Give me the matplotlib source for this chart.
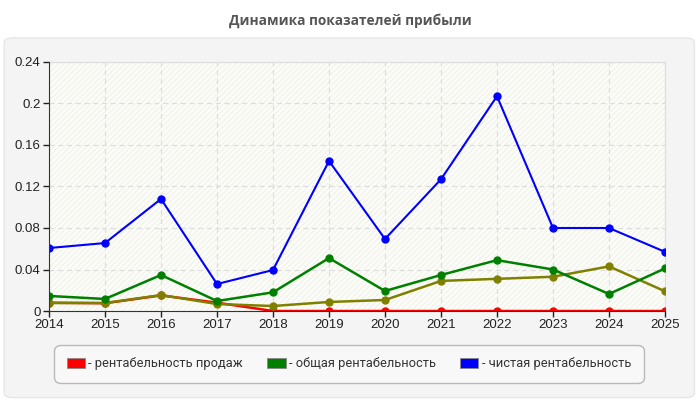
import matplotlib
matplotlib.use("Agg")
import matplotlib.pyplot as plt
from matplotlib.patches import FancyBboxPatch, Rectangle
import matplotlib.ticker as mticker

years = [2014, 2015, 2016, 2017, 2018, 2019, 2020, 2021, 2022, 2023, 2024, 2025]
sales_prof = [0.008, 0.0075, 0.015, 0.008, 0, 0, 0, 0, 0, 0, 0, 0]
total_prof = [0.0145, 0.0116, 0.0347, 0.0096, 0.018, 0.051, 0.0193, 0.0347, 0.049, 0.040, 0.0164, 0.041]
net_prof = [0.0607, 0.0655, 0.108, 0.026, 0.0395, 0.1446, 0.0694, 0.127, 0.207, 0.080, 0.080, 0.057]
other_prof = [0.0077, 0.0077, 0.0154, 0.0067, 0.0048, 0.0087, 0.0106, 0.029, 0.031, 0.033, 0.043, 0.019]
labels = ["- рентабельность продаж", "- общая рентабельность", "- чистая рентабельность"]
title = "Динамика показателей прибыли"
yticks = [0, 0.04, 0.08, 0.12, 0.16, 0.2, 0.24]

plt.rcParams['font.family'] = ['Liberation Sans', 'DejaVu Sans']

fig = plt.figure(figsize=(7, 4), dpi=100)
fig.patch.set_facecolor('white')

panel = FancyBboxPatch((0.006, 0.006), 0.986, 0.899,
                       boxstyle="round,pad=0,rounding_size=0.012",
                       transform=fig.transFigure, facecolor='#f4f4f4',
                       edgecolor='#e6e6e6', linewidth=1, zorder=-5)
fig.patches.append(panel)

fig.text(0.5, 0.948, title, ha='center', va='center', fontsize=9.8,
         fontweight='bold', color='#555555', family=['Open Sans', 'DejaVu Sans'])

ax = fig.add_axes([0.07, 0.2225, 0.88, 0.6225])
ax.set_zorder(1)
ax.set_facecolor('#fdfdf8')
ax.add_patch(Rectangle((0, 0), 1, 1, transform=ax.transAxes, facecolor='none',
                       edgecolor='#f2f2ee', hatch='//////', linewidth=0, zorder=0))

ax.plot(years, sales_prof, color='#ff0000', lw=1.8, marker='o', ms=5, zorder=3)
ax.plot(years, other_prof, color='#808000', lw=1.8, marker='o', ms=5, zorder=4)
ax.plot(years, total_prof, color='#008000', lw=1.8, marker='o', ms=5, zorder=4)
ax.plot(years, net_prof, color='#0000ff', lw=1.5, marker='o', ms=5, zorder=5)

ax.set_xlim(2014, 2025)
ax.set_ylim(0, 0.24)
ax.set_xticks(years)
ax.set_yticks(yticks)
ax.yaxis.set_major_formatter(mticker.FuncFormatter(lambda v, p: '0' if v == 0 else ('%g' % v)))
ax.grid(True, color='#dddddd', linestyle=(0, (4, 3)), linewidth=0.9)
ax.set_axisbelow(True)
for s in ['top', 'right']:
    ax.spines[s].set_color('#dddddd')
for s in ['left', 'bottom']:
    ax.spines[s].set_color('#333333')
    ax.spines[s].set_zorder(6)
ax.tick_params(axis='both', labelsize=9.5, colors='#222222', length=4, width=1, pad=2)
for lab in ax.get_xticklabels() + ax.get_yticklabels():
    lab.set_clip_on(False)

handles = [Rectangle((0, 0), 1, 1, facecolor=c, edgecolor='#888888', linewidth=0.6)
           for c in ['#ff0000', '#008000', '#0000ff']]
leg = fig.legend(handles, labels, loc='center', bbox_to_anchor=(0.4986, 0.09),
                 ncol=3, frameon=True, handlelength=1.4, handleheight=0.7,
                 handletextpad=0.25, columnspacing=1.9, borderpad=1.0,
                 prop={'family': ['Roboto', 'DejaVu Sans'], 'size': 9.3})
leg.get_frame().set_facecolor('#fafafa')
leg.get_frame().set_edgecolor('#aaaaaa')
leg.get_frame().set_boxstyle('round,pad=0,rounding_size=0.5')
for t in leg.get_texts():
    t.set_color('#333333')

fig.savefig('out.png', dpi=100, facecolor='white')
